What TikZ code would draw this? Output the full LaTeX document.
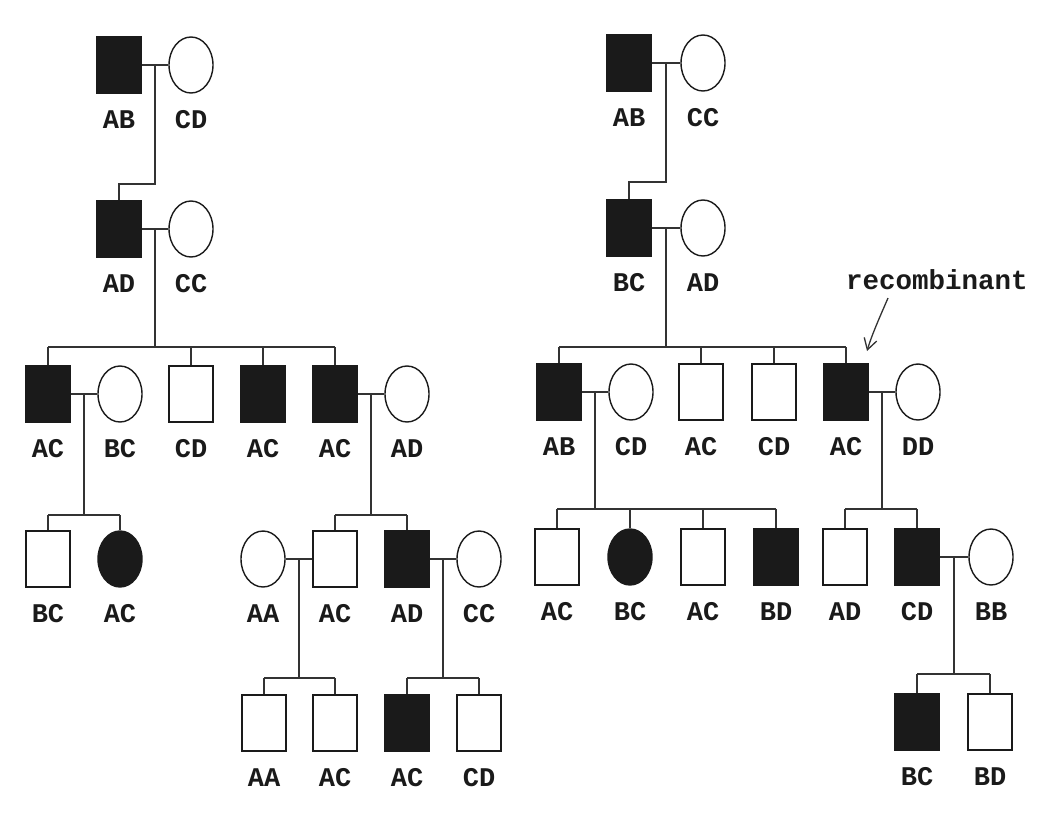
\documentclass[tikz,border=0pt]{standalone}
\usepackage{fontspec}
\newfontfamily\pedfont{Liberation Mono}
\usepackage{tikz}
\usetikzlibrary{arrows.meta,positioning,shapes.geometric,calc}
\definecolor{PedInk}{HTML}{1A1A1A}
\definecolor{PedLine}{HTML}{333333}

\begin{document}
\begin{tikzpicture}[
  x=1pt,y=-1pt,
  node distance=18pt,
  male/.style={draw=PedInk,rectangle,minimum width=44pt,minimum height=56pt,
    inner sep=0pt,line width=1.4pt},
  female/.style={draw=PedInk,ellipse,minimum width=44pt,minimum height=56pt,
    inner sep=0pt,line width=1.4pt},
  aff/.style={fill=PedInk},
  lbl/.style={font=\pedfont\bfseries\fontsize{27}{27}\selectfont,inner sep=0pt,
    text height=17pt,text depth=0pt,PedInk},
  ln/.style={PedLine,line width=1.9pt},
  note/.style={font=\pedfont\bfseries\fontsize{27.5}{27.5}\selectfont,inner sep=0pt,PedInk}]
  \useasboundingbox (0,0) rectangle (1038,815);

  % Left family
  \node[male,aff](L1m) at (119,65) {};
  \node[female](L1f) at (191,65) {};
  \node[male,aff](L2m) at (119,229) {};
  \node[female](L2f) at (191,229) {};
  \node[male,aff](L3a) at (48,394) {};
  \node[female](L3b) at (120,394) {};
  \node[male](L3c) at (191,394) {};
  \node[male,aff](L3d) at (263,394) {};
  \node[male,aff](L3e) at (335,394) {};
  \node[female](L3f) at (407,394) {};
  \node[male](L4a) at (48,559) {};
  \node[female,aff](L4b) at (120,559) {};
  \node[female](L4c) at (263,559) {};
  \node[male](L4d) at (335,559) {};
  \node[male,aff](L4e) at (407,559) {};
  \node[female](L4f) at (479,559) {};
  \node[male](L5a) at (264,723) {};
  \node[male](L5b) at (335,723) {};
  \node[male,aff](L5c) at (407,723) {};
  \node[male](L5d) at (479,723) {};

  % Right family
  \node[male,aff](R1m) at (629,63) {};
  \node[female](R1f) at (703,63) {};
  \node[male,aff](R2m) at (629,228) {};
  \node[female](R2f) at (703,228) {};
  \node[male,aff](R3a) at (559,392) {};
  \node[female](R3b) at (631,392) {};
  \node[male](R3c) at (701,392) {};
  \node[male](R3d) at (774,392) {};
  \node[male,aff](R3e) at (846,392) {};
  \node[female](R3f) at (918,392) {};
  \node[male](R4a) at (557,557) {};
  \node[female,aff](R4b) at (630,557) {};
  \node[male](R4c) at (703,557) {};
  \node[male,aff](R4d) at (776,557) {};
  \node[male](R4e) at (845,557) {};
  \node[male,aff](R4f) at (917,557) {};
  \node[female](R4g) at (991,557) {};
  \node[male,aff](R5a) at (917,722) {};
  \node[male](R5b) at (990,722) {};

  % Genotypes
  \node[lbl,below=of L1m](L1mt) {AB};
  \node[lbl,below=of L1f](L1ft) {CD};
  \node[lbl,below=of L2m](L2mt) {AD};
  \node[lbl,below=of L2f](L2ft) {CC};
  \node[lbl,below=of L3a](L3at) {AC};
  \node[lbl,below=of L3b](L3bt) {BC};
  \node[lbl,below=of L3c](L3ct) {CD};
  \node[lbl,below=of L3d](L3dt) {AC};
  \node[lbl,below=of L3e](L3et) {AC};
  \node[lbl,below=of L3f](L3ft) {AD};
  \node[lbl,below=of L4a](L4at) {BC};
  \node[lbl,below=of L4b](L4bt) {AC};
  \node[lbl,below=of L4c](L4ct) {AA};
  \node[lbl,below=of L4d](L4dt) {AC};
  \node[lbl,below=of L4e](L4et) {AD};
  \node[lbl,below=of L4f](L4ft) {CC};
  \node[lbl,below=of L5a](L5at) {AA};
  \node[lbl,below=of L5b](L5bt) {AC};
  \node[lbl,below=of L5c](L5ct) {AC};
  \node[lbl,below=of L5d](L5dt) {CD};
  \node[lbl,below=of R1m](R1mt) {AB};
  \node[lbl,below=of R1f](R1ft) {CC};
  \node[lbl,below=of R2m](R2mt) {BC};
  \node[lbl,below=of R2f](R2ft) {AD};
  \node[lbl,below=of R3a](R3at) {AB};
  \node[lbl,below=of R3b](R3bt) {CD};
  \node[lbl,below=of R3c](R3ct) {AC};
  \node[lbl,below=of R3d](R3dt) {CD};
  \node[lbl,below=of R3e](R3et) {AC};
  \node[lbl,below=of R3f](R3ft) {DD};
  \node[lbl,below=of R4a](R4at) {AC};
  \node[lbl,below=of R4b](R4bt) {BC};
  \node[lbl,below=of R4c](R4ct) {AC};
  \node[lbl,below=of R4d](R4dt) {BD};
  \node[lbl,below=of R4e](R4et) {AD};
  \node[lbl,below=of R4f](R4ft) {CD};
  \node[lbl,below=of R4g](R4gt) {BB};
  \node[lbl,below=of R5a](R5at) {BC};
  \node[lbl,below=of R5b](R5bt) {BD};

  % Matings and sibships, left
  \draw[ln](L1m)--(L1f) coordinate[midway](L1c);
  \draw[ln](L1c)--(L1c |- 0,184) -| (L2m.north);
  \draw[ln](L2m)--(L2f) coordinate[midway](L2c);
  \draw[ln](L2c)--(L2c |- 0,347);
  \draw[ln](L3a.north |- 0,347)--(L3e.north |- 0,347);
  \foreach \k in {L3a,L3c,L3d,L3e}
    \draw[ln](\k.north |- 0,347)--(\k.north);
  \draw[ln](L3a)--(L3b) coordinate[midway](L3c1);
  \draw[ln](L3c1)--(L3c1 |- 0,515);
  \draw[ln](L4a.north |- 0,515)--(L4b.north |- 0,515);
  \foreach \k in {L4a,L4b}
    \draw[ln](\k.north |- 0,515)--(\k.north);
  \draw[ln](L3e)--(L3f) coordinate[midway](L3c2);
  \draw[ln](L3c2)--(L3c2 |- 0,515);
  \draw[ln](L4d.north |- 0,515)--(L4e.north |- 0,515);
  \foreach \k in {L4d,L4e}
    \draw[ln](\k.north |- 0,515)--(\k.north);
  \draw[ln](L4c)--(L4d) coordinate[midway](L4c1);
  \draw[ln](L4c1)--(L4c1 |- 0,678);
  \draw[ln](L5a.north |- 0,678)--(L5b.north |- 0,678);
  \draw[ln](L4e)--(L4f) coordinate[midway](L4c2);
  \draw[ln](L4c2)--(L4c2 |- 0,678);
  \draw[ln](L5c.north |- 0,678)--(L5d.north |- 0,678);
  \foreach \k in {L5a,L5b,L5c,L5d}
    \draw[ln](\k.north |- 0,678)--(\k.north);

  % Matings and sibships, right
  \draw[ln](R1m)--(R1f) coordinate[midway](R1c);
  \draw[ln](R1c)--(R1c |- 0,182) -| (R2m.north);
  \draw[ln](R2m)--(R2f) coordinate[midway](R2c);
  \draw[ln](R2c)--(R2c |- 0,347);
  \draw[ln](R3a.north |- 0,347)--(R3e.north |- 0,347);
  \foreach \k in {R3a,R3c,R3d,R3e}
    \draw[ln](\k.north |- 0,347)--(\k.north);
  \draw[ln](R3a)--(R3b) coordinate[midway](R3c1);
  \draw[ln](R3c1)--(R3c1 |- 0,509);
  \draw[ln](R4a.north |- 0,509)--(R4d.north |- 0,509);
  \foreach \k in {R4a,R4b,R4c,R4d}
    \draw[ln](\k.north |- 0,509)--(\k.north);
  \draw[ln](R3e)--(R3f) coordinate[midway](R3c2);
  \draw[ln](R3c2)--(R3c2 |- 0,509);
  \draw[ln](R4e.north |- 0,509)--(R4f.north |- 0,509);
  \foreach \k in {R4e,R4f}
    \draw[ln](\k.north |- 0,509)--(\k.north);
  \draw[ln](R4f)--(R4g) coordinate[midway](R4c1);
  \draw[ln](R4c1)--(R4c1 |- 0,674);
  \draw[ln](R5a.north |- 0,674)--(R5b.north |- 0,674);
  \foreach \k in {R5a,R5b}
    \draw[ln](\k.north |- 0,674)--(\k.north);

  % Annotation
  \node[note](rec) at (937,280) {recombinant};
  \coordinate (recTip) at (867,351);
  \draw[PedLine,line width=1.3pt,-{Straight Barb[length=11pt,width=13pt]}]
    (888,298) .. controls (882,312) and (872,334) .. (recTip);
\end{tikzpicture}
\end{document}
